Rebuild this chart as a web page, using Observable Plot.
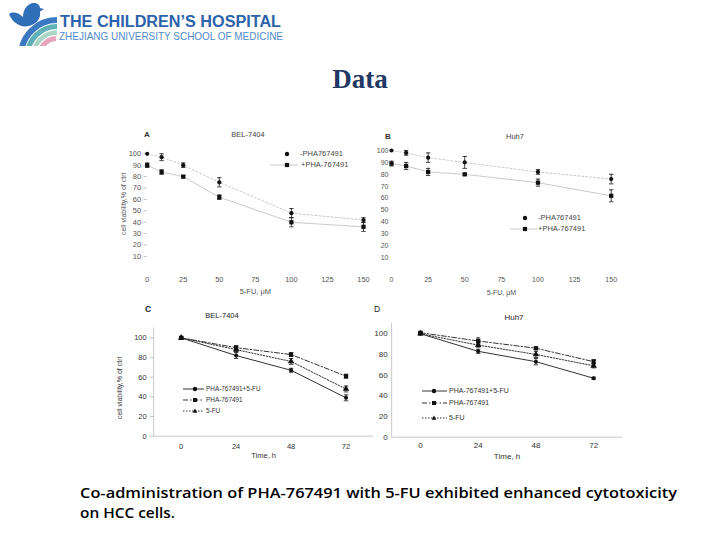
<!DOCTYPE html>
<html>
<head>
<meta charset="utf-8">
<script src="https://cdn.jsdelivr.net/npm/d3@7"></script>
<script src="https://cdn.jsdelivr.net/npm/@observablehq/plot@0.6"></script>
<style>
  html, body { margin: 0; padding: 0; background: #fff; }
  #page { position: relative; width: 720px; height: 540px; overflow: hidden; background: #fff;
          font-family: "Liberation Sans", Arial, sans-serif; }
  .abs { position: absolute; white-space: nowrap; }
  .ptitle { position: absolute; white-space: nowrap; transform: translate(-50%, -50%); line-height: 1; }
  .legrow { position: absolute; display: flex; align-items: center; white-space: nowrap; }
</style>
</head>
<body>
<div id="page"></div>
<script>
// ---------------- data ----------------
const doseUM = [0, 10, 25, 50, 100, 150];
const doseTicks = [0, 25, 50, 75, 100, 125, 150];
const viabilityTicksAB = [10, 20, 30, 40, 50, 60, 70, 80, 90, 100];

const aNoPHA = [100, 97, 90, 75, 48, 42];
const aNoPHAErr = [0, 3, 2, 4, 4, 2];
const aPHA = [90, 84, 80, 62, 40, 36];
const aPHAErr = [2, 2, 1, 2, 4, 4];

const bNoPHA = [100, 98, 94, 90, 82, 76];
const bNoPHAErr = [0, 2, 4, 5, 2, 4];
const bPHA = [89, 87, 82, 80, 73, 62];
const bPHAErr = [2, 3, 3, 1, 3, 5];

const timeH = [0, 24, 48, 72];
const viabilityTicksCD = [0, 20, 40, 60, 80, 100];

const cCombo = [100, 82, 67, 39];
const cComboErr = [1, 3, 2, 3];
const cPHA = [100, 90, 83, 61];
const cPHAErr = [1, 2, 2, 2];
const cFU = [100, 88, 76, 48];
const cFUErr = [1, 2, 3, 3];

const dCombo = [100, 83, 73, 57];
const dComboErr = [1, 2, 3, 1];
const dPHA = [101, 93, 86, 73];
const dPHAErr = [1, 3, 1, 2];
const dFU = [100, 89, 80, 69];
const dFUErr = [1, 2, 3, 2];

const namesAB = ["-PHA767491", "+PHA-767491"];
const namesCD = ["PHA-767491+5-FU", "PHA-767491", "5-FU"];
const yTitle = "cell viability,% of ctrl";

// ---------------- helpers ----------------
const page = document.getElementById("page");

const capSymbol = {
  draw(context, size) {
    const r = Math.sqrt(size / Math.PI);
    context.moveTo(-r, 0);
    context.lineTo(r, 0);
  }
};

function panel(cfg) {
  const marks = [];
  if (cfg.axisLines) {
    marks.push(Plot.ruleX([cfg.xDomain[0]], {y1: cfg.yDomain[0], y2: cfg.yDomain[1], stroke: "#bbb", strokeWidth: 0.8}));
    marks.push(Plot.ruleY([cfg.yDomain[0]], {x1: cfg.xDomain[0], x2: cfg.xDomain[1], stroke: "#bbb", strokeWidth: 0.8}));
  }
  marks.push(Plot.axisX(cfg.xTicks, {tickSize: 0, tickPadding: cfg.xPad, fontSize: cfg.tickFont, label: null}));
  marks.push(Plot.axisY(cfg.yTicks, {tickSize: cfg.yTickSize, tickPadding: cfg.yPad, fontSize: cfg.tickFont, label: null, stroke: "#999", strokeWidth: 0.6}));
  if (cfg.xLabel) marks.push(Plot.text([cfg.xLabel], {frameAnchor: "bottom", dy: cfg.xLabelDy, fontSize: cfg.tickFont}));
  cfg.series.forEach(s => {
    const rows = s.values.map((v, i) => ({x: cfg.xs[i], y: v, e: s.err[i]}));
    const withErr = rows.filter(d => d.e > 0);
    marks.push(Plot.line(rows, {x: "x", y: "y", stroke: s.lineColor, strokeWidth: s.lineWidth, strokeDasharray: s.dash}));
    marks.push(Plot.ruleX(withErr, {x: "x", y1: d => d.y - d.e, y2: d => d.y + d.e, stroke: "#111", strokeWidth: 0.8}));
    marks.push(Plot.dot(withErr, {x: "x", y: d => d.y + d.e, symbol: capSymbol, r: 2.2, stroke: "#111", strokeWidth: 0.8, fill: "none"}));
    marks.push(Plot.dot(withErr, {x: "x", y: d => d.y - d.e, symbol: capSymbol, r: 2.2, stroke: "#111", strokeWidth: 0.8, fill: "none"}));
    marks.push(Plot.dot(rows, {x: "x", y: "y", symbol: s.symbol, r: s.r, fill: "#111", stroke: "none"}));
  });
  const chart = Plot.plot({
    width: cfg.width, height: cfg.height,
    marginLeft: cfg.marginLeft, marginRight: cfg.marginRight,
    marginTop: cfg.marginTop, marginBottom: cfg.marginBottom,
    x: {domain: cfg.xDomain, label: null},
    y: {domain: cfg.yDomain, label: null},
    style: {background: "transparent", color: cfg.textColor, fontFamily: "'Liberation Sans', Arial, sans-serif", overflow: "visible"},
    marks
  });
  chart.style.position = "absolute";
  chart.style.left = cfg.left + "px";
  chart.style.top = cfg.top + "px";
  page.appendChild(chart);
}

function addText(txt, x, y, size, opts = {}) {
  const d = document.createElement("div");
  d.className = "ptitle";
  d.textContent = txt;
  d.style.left = x + "px";
  d.style.top = y + "px";
  d.style.fontSize = size + "px";
  d.style.color = opts.color || "#333";
  if (opts.bold) d.style.fontWeight = "bold";
  if (opts.rotate) d.style.transform = "translate(-50%, -50%) rotate(-90deg)";
  page.appendChild(d);
}

function markerSvg(symbol, cx, cy, s) {
  if (symbol === "circle") return `<circle cx="${cx}" cy="${cy}" r="${s * 0.55}" fill="#111"/>`;
  if (symbol === "square") return `<rect x="${cx - s / 2}" y="${cy - s / 2}" width="${s}" height="${s}" fill="#111"/>`;
  return `<path d="M${cx},${cy - s * 0.6}L${cx + s * 0.6},${cy + s * 0.45}L${cx - s * 0.6},${cy + s * 0.45}Z" fill="#111"/>`;
}

function legendRow(name, cfg) {
  const row = document.createElement("div");
  row.className = "legrow";
  row.style.left = cfg.left + "px";
  row.style.top = (cfg.y - 5) + "px";
  row.style.height = "10px";
  const w = cfg.width;
  const line = cfg.noLine ? "" :
    `<line x1="0" y1="5" x2="${w}" y2="5" stroke="${cfg.lineColor}" stroke-width="${cfg.lineWidth}" ${cfg.dash ? `stroke-dasharray="${cfg.dash}"` : ""}/>`;
  row.innerHTML = `<svg width="${w}" height="10" style="display:block;overflow:visible">${line}${markerSvg(cfg.symbol, cfg.mx, 5, cfg.ms)}</svg>` +
    `<span style="font-size:${cfg.font}px;color:${cfg.color};margin-left:${cfg.gap}px;line-height:10px">${name}</span>`;
  page.appendChild(row);
}

// ---------------- logo, title ----------------
const svgNS = "http://www.w3.org/2000/svg";
const header = document.createElement("div");
header.className = "abs";
header.style.left = "0px"; header.style.top = "0px";
header.innerHTML = `
<svg width="300" height="50" xmlns="${svgNS}">
  <defs><clipPath id="lc"><rect x="0" y="0" width="60" height="46"/></clipPath></defs>
  <path d="M9,14 C13,11 19,13 23,17 C23,10 27,4 33,3 C37,2.5 40,5 40,8 L44,9 L40,11.5 C41,18 37,24 29,26 C20,28 12,22 9,14 Z" fill="#2f6fb8"/>
  <g clip-path="url(#lc)" fill="none">
    <path d="M21,56 A36,36 0 0 1 57,20" stroke="#3a78c2" stroke-width="6"/>
    <path d="M27.5,56 A29.5,29.5 0 0 1 57,26.5" stroke="#5fb0b7" stroke-width="5"/>
    <path d="M33.5,56 A23.5,23.5 0 0 1 57,32.5" stroke="#a9d6c4" stroke-width="4.5"/>
    <path d="M39.5,56 A17.5,17.5 0 0 1 56,38.5" stroke="#e9a4bd" stroke-width="5"/>
  </g>
  <text x="60" y="26.7" font-family="'Liberation Sans', Arial, sans-serif" font-weight="bold" font-size="16" fill="#2d63ab" textLength="221" lengthAdjust="spacingAndGlyphs">THE CHILDREN’S HOSPITAL</text>
  <text x="59" y="39.5" font-family="'Liberation Sans', Arial, sans-serif" font-size="10.5" fill="#4f8acb" textLength="224" lengthAdjust="spacingAndGlyphs">ZHEJIANG UNIVERSITY SCHOOL OF MEDICINE</text>
</svg>`;
page.appendChild(header);

const title = document.createElement("div");
title.className = "abs";
title.style.left = "0px"; title.style.width = "720px"; title.style.top = "66px";
title.style.textAlign = "center";
title.style.font = "bold 27px 'Liberation Serif', 'Times New Roman', serif";
title.style.lineHeight = "27px";
title.style.color = "#1f3864";
title.textContent = "Data";
page.appendChild(title);

// ---------------- panels ----------------
const abLine = "#bdbdbd";
// A
panel({
  left: 100, top: 125, width: 275, height: 185,
  marginLeft: 46.7, marginRight: 12, marginTop: 28.3, marginBottom: 42.6,
  xDomain: [0, 150], yDomain: [0, 100], xs: doseUM, xTicks: doseTicks, yTicks: viabilityTicksAB,
  xPad: 9, yTickSize: 3, yPad: 3, tickFont: 7.5, textColor: "#555",
  xLabel: "5-FU, μM", xLabelDy: 26,
  series: [
    {values: aNoPHA, err: aNoPHAErr, symbol: "circle", r: 2.1, lineColor: abLine, lineWidth: 0.8, dash: "2,2"},
    {values: aPHA, err: aPHAErr, symbol: "square", r: 2.4, lineColor: abLine, lineWidth: 0.8, dash: null}
  ]
});
// B
panel({
  left: 355, top: 125, width: 265, height: 180,
  marginLeft: 36, marginRight: 9.3, marginTop: 25, marginBottom: 35.8,
  xDomain: [0, 150], yDomain: [0, 100], xs: doseUM, xTicks: doseTicks, yTicks: viabilityTicksAB,
  xPad: 7, yTickSize: 0, yPad: 3, tickFont: 7, textColor: "#555",
  xLabel: "5-FU, μM", xLabelDy: 25,
  series: [
    {values: bNoPHA, err: bNoPHAErr, symbol: "circle", r: 2.1, lineColor: abLine, lineWidth: 0.8, dash: "2,2"},
    {values: bPHA, err: bPHAErr, symbol: "square", r: 2.4, lineColor: abLine, lineWidth: 0.8, dash: null}
  ]
});
// C
const cdLine = "#333";
panel({
  left: 100, top: 300, width: 280, height: 160,
  marginLeft: 53.2, marginRight: 7, marginTop: 27.5, marginBottom: 24.3,
  xDomain: [-12, 84], yDomain: [0, 110], xs: timeH, xTicks: timeH, yTicks: viabilityTicksCD,
  xPad: 7, yTickSize: 3, yPad: 4, tickFont: 7.5, textColor: "#333", axisLines: true,
  xLabel: "Time, h", xLabelDy: 22,
  series: [
    {values: cCombo, err: cComboErr, symbol: "circle", r: 2, lineColor: cdLine, lineWidth: 1, dash: null},
    {values: cPHA, err: cPHAErr, symbol: "square", r: 2.4, lineColor: cdLine, lineWidth: 1, dash: "5,2,1.5,2"},
    {values: cFU, err: cFUErr, symbol: "triangle", r: 2.4, lineColor: cdLine, lineWidth: 1, dash: "1.5,1.5"}
  ]
});
// D
panel({
  left: 355, top: 300, width: 275, height: 160,
  marginLeft: 36.1, marginRight: 8, marginTop: 22.9, marginBottom: 23.3,
  xDomain: [-12, 84], yDomain: [0, 110], xs: timeH, xTicks: timeH, yTicks: viabilityTicksCD,
  xPad: 5.5, yTickSize: 0, yPad: 4, tickFont: 8, textColor: "#333", axisLines: true,
  xLabel: "Time, h", xLabelDy: 21.5,
  series: [
    {values: dCombo, err: dComboErr, symbol: "circle", r: 2, lineColor: cdLine, lineWidth: 1, dash: null},
    {values: dPHA, err: dPHAErr, symbol: "square", r: 2.4, lineColor: cdLine, lineWidth: 1, dash: "5,2,1.5,2"},
    {values: dFU, err: dFUErr, symbol: "triangle", r: 2.4, lineColor: cdLine, lineWidth: 1, dash: "1.5,1.5"}
  ]
});

// ---------------- panel titles & axis titles ----------------
addText("A", 147, 135, 8, {bold: true, color: "#333"});
addText("BEL-7404", 248, 135, 7.5, {color: "#444"});
addText("B", 388, 137, 8, {bold: true, color: "#333"});
addText("Huh7", 515, 137, 7.5, {color: "#444"});
addText("C", 148, 309, 8.5, {bold: true, color: "#222"});
addText("BEL-7404", 222, 316, 7.5, {color: "#222"});
addText("D", 377, 309, 8.5, {color: "#222"});
addText("Huh7", 514, 318, 8, {color: "#222"});
addText(yTitle, 123, 204, 7, {color: "#555", rotate: true});
addText(yTitle, 118.5, 388, 7, {color: "#333", rotate: true});

// ---------------- legends ----------------
legendRow(namesAB[0], {left: 274, y: 154, width: 26, mx: 13, symbol: "circle", ms: 4, noLine: true, font: 7.5, color: "#444", gap: 0});
legendRow(namesAB[1], {left: 270, y: 164.5, width: 28, mx: 17, symbol: "square", ms: 4.2, lineColor: abLine, lineWidth: 0.8, font: 7.5, color: "#444", gap: 3});
legendRow(namesAB[0], {left: 512, y: 217.5, width: 26, mx: 13, symbol: "circle", ms: 4, noLine: true, font: 7.5, color: "#444", gap: 0});
legendRow(namesAB[1], {left: 510, y: 229, width: 27, mx: 15, symbol: "square", ms: 4.2, lineColor: abLine, lineWidth: 0.8, font: 7.5, color: "#444", gap: 1});

const cdStyles = [
  {symbol: "circle", dash: null},
  {symbol: "square", dash: "5,2,1.5,2"},
  {symbol: "triangle", dash: "1.5,1.5"}
];
const cRows = [388.5, 400, 411];
const dRows = [391, 403.3, 418];
namesCD.forEach((n, i) => {
  legendRow(n, {left: 183, y: cRows[i], width: 21, mx: 12, symbol: cdStyles[i].symbol, ms: 4, lineColor: cdLine, lineWidth: 1, dash: cdStyles[i].dash, font: 6.4, color: "#333", gap: 2});
  legendRow(n, {left: 422, y: dRows[i], width: 25, mx: 12, symbol: cdStyles[i].symbol, ms: 4, lineColor: cdLine, lineWidth: 1, dash: cdStyles[i].dash, font: 7, color: "#333", gap: 2});
});

// ---------------- caption ----------------
const cap = document.createElement("div");
cap.className = "abs";
cap.style.left = "0px"; cap.style.top = "470px";
cap.innerHTML = `
<svg width="720" height="60" xmlns="${svgNS}">
  <text x="80" y="28.3" font-family="'Open Sans', 'Noto Sans', sans-serif" font-weight="600" font-size="14" fill="#000" textLength="597" lengthAdjust="spacingAndGlyphs">Co-administration of PHA-767491 with 5-FU exhibited enhanced cytotoxicity</text>
  <text x="80" y="47.7" font-family="'Open Sans', 'Noto Sans', sans-serif" font-weight="600" font-size="14" fill="#000" textLength="95" lengthAdjust="spacingAndGlyphs">on HCC cells.</text>
</svg>`;
page.appendChild(cap);
</script>
</body>
</html>
